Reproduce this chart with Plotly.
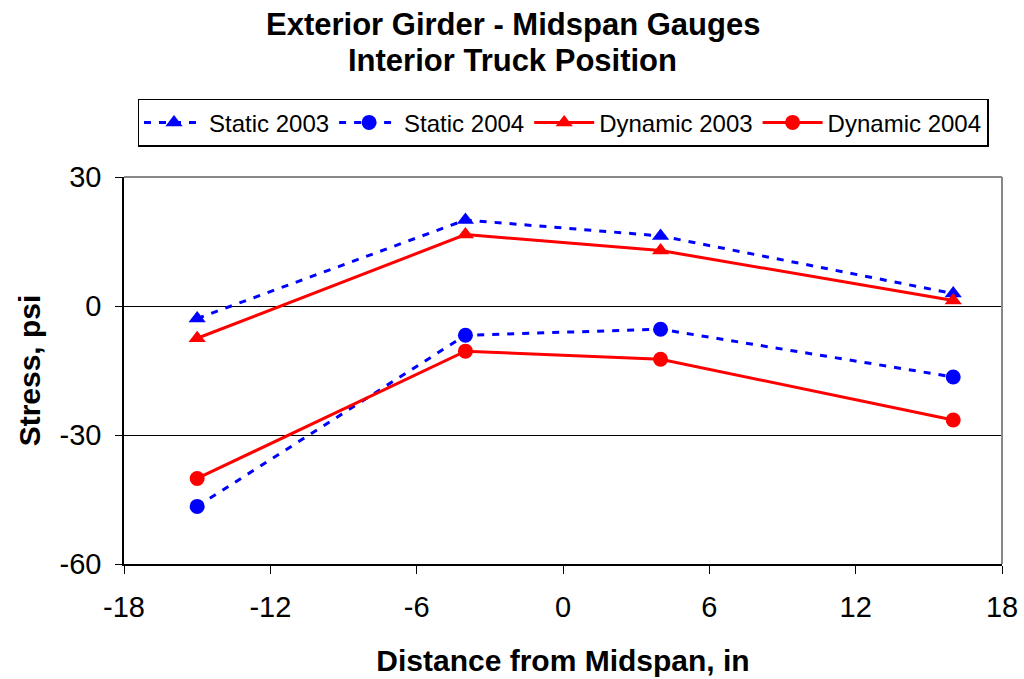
import plotly.graph_objects as go

# distance from midspan, in
distance = [-15, -4, 4, 16]

# stress, psi
static_2003 = [-2.9, 20.0, 16.3, 2.9]
static_2004 = [-46.6, -6.8, -5.4, -16.5]
dynamic_2003 = [-7.5, 16.6, 12.9, 1.3]
dynamic_2004 = [-40.1, -10.5, -12.4, -26.5]

x_ticks = [-18, -12, -6, 0, 6, 12, 18]
y_ticks = [-60, -30, 0, 30]

title_lines = ["Exterior Girder - Midspan Gauges", "Interior Truck Position"]

FONT = "Liberation Sans, Arial, sans-serif"

fig = go.Figure()
fig.add_trace(go.Scatter(x=distance, y=static_2003, name="Static 2003", mode="lines+markers",
                         line=dict(color="#0000ff", width=3, dash="7px,8px"),
                         marker=dict(symbol="triangle-up", size=15, color="#0000ff")))
fig.add_trace(go.Scatter(x=distance, y=static_2004, name="Static 2004", mode="lines+markers",
                         line=dict(color="#0000ff", width=3, dash="7px,8px"),
                         marker=dict(symbol="circle", size=15, color="#0000ff")))
fig.add_trace(go.Scatter(x=distance, y=dynamic_2003, name="Dynamic 2003", mode="lines+markers",
                         line=dict(color="#ff0000", width=3),
                         marker=dict(symbol="triangle-up", size=15, color="#ff0000")))
fig.add_trace(go.Scatter(x=distance, y=dynamic_2004, name="Dynamic 2004", mode="lines+markers",
                         line=dict(color="#ff0000", width=3),
                         marker=dict(symbol="circle", size=15, color="#ff0000")))

# gray frame on top and right of the plot area
fig.add_shape(type="line", xref="paper", yref="paper", x0=0, x1=1, y0=1, y1=1,
              line=dict(color="#888888", width=2))
fig.add_shape(type="line", xref="paper", yref="paper", x0=1, x1=1, y0=0, y1=1,
              line=dict(color="#888888", width=2))

# two-line title
for line, ypos in zip(title_lines, [1.393, 1.302]):
    fig.add_annotation(text="<b>%s</b>" % line, xref="paper", yref="paper",
                       x=0.443, y=ypos, xanchor="center", yanchor="middle",
                       showarrow=False, font=dict(size=31, color="black", family=FONT))

fig.update_layout(
    width=1024, height=679,
    paper_bgcolor="white", plot_bgcolor="white",
    font=dict(family=FONT, color="black"),
    margin=dict(l=124, r=22, t=177, b=115, autoexpand=False),
    legend=dict(orientation="h", x=0.5, xanchor="center", y=1.14, yanchor="middle",
                bordercolor="black", borderwidth=1.5, font=dict(size=24),
                itemwidth=60, tracegroupgap=0),
    showlegend=True,
)
fig.update_xaxes(range=[-18, 18], tickvals=x_ticks, ticktext=[str(v) for v in x_ticks],
                 showgrid=False, zeroline=False, automargin=False,
                 showline=True, linecolor="black", linewidth=1.5,
                 ticks="outside", ticklen=8, tickcolor="black",
                 tickfont=dict(size=29), ticklabelstandoff=8, ticklabeloverflow="allow",
                 title=dict(text="<b>Distance from Midspan, in</b>", font=dict(size=30), standoff=28))
fig.update_yaxes(range=[-60, 30], tickvals=y_ticks, ticktext=[str(v) for v in y_ticks],
                 showgrid=True, gridcolor="black", gridwidth=1, automargin=False,
                 zeroline=False, showline=True, linecolor="black", linewidth=1.5,
                 ticks="outside", ticklen=7, tickcolor="black",
                 tickfont=dict(size=29), ticklabelstandoff=8,
                 title=dict(text="<b>Stress, psi</b>", font=dict(size=30), standoff=10))

fig.write_html("out.html", config={"displayModeBar": False},
               post_script="document.body.style.margin='0';")
